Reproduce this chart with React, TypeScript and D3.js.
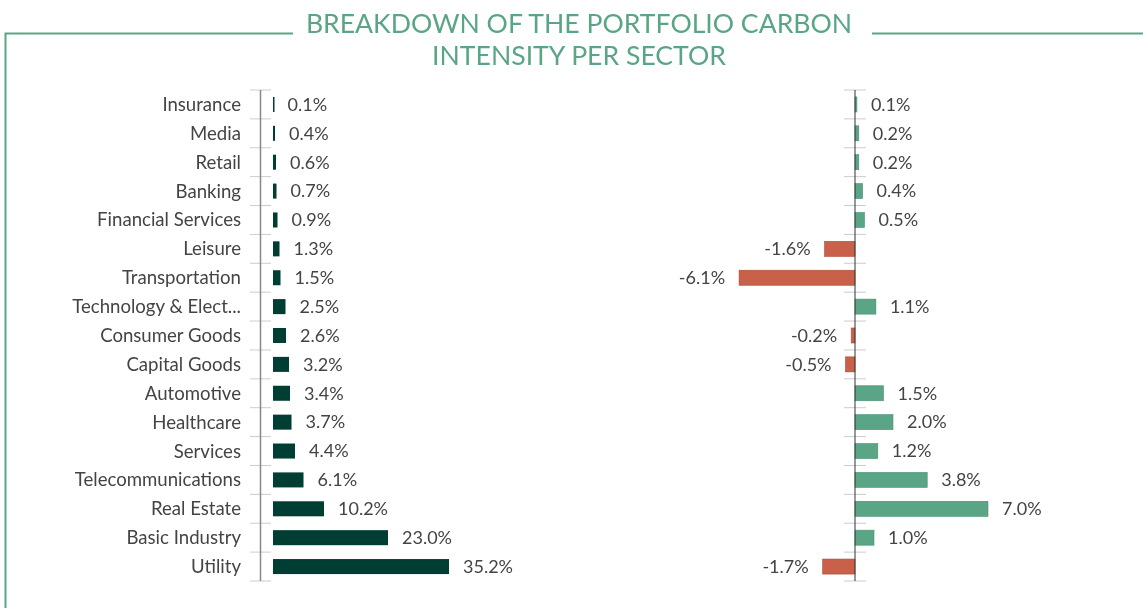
import { useEffect, useRef } from "react";
import * as d3 from "d3";

const sectors = [
  "Insurance", "Media", "Retail", "Banking", "Financial Services", "Leisure",
  "Transportation", "Technology & Elect...", "Consumer Goods", "Capital Goods",
  "Automotive", "Healthcare", "Services", "Telecommunications", "Real Estate",
  "Basic Industry", "Utility",
];
const portfolioShare = [0.1, 0.4, 0.6, 0.7, 0.9, 1.3, 1.5, 2.5, 2.6, 3.2, 3.4, 3.7, 4.4, 6.1, 10.2, 23.0, 35.2];
const relativeDiff = [0.1, 0.2, 0.2, 0.4, 0.5, -1.6, -6.1, 1.1, -0.2, -0.5, 1.5, 2.0, 1.2, 3.8, 7.0, 1.0, -1.7];

const titleLines = ["BREAKDOWN OF THE PORTFOLIO CARBON", "INTENSITY PER SECTOR"];

const W = 1143;
const H = 608;
const FONT = "Lato, 'Open Sans', sans-serif";
const GREEN = "#5aa585";
const DARK = "#003d33";
const RED = "#c8604a";

const App = () => {
  const svgRef = useRef<SVGSVGElement>(null);

  useEffect(() => {
    const svg = d3.select(svgRef.current);
    svg.selectAll("*").remove();

    // frame + title
    svg.append("path")
      .attr("d", `M293,33.5 H5.5 V${H}`)
      .attr("fill", "none").attr("stroke", GREEN).attr("stroke-width", 2);
    svg.append("path")
      .attr("d", `M872,33.5 H${W}`)
      .attr("fill", "none").attr("stroke", GREEN).attr("stroke-width", 2);

    svg.append("g")
      .selectAll("text")
      .data(titleLines)
      .join("text")
      .attr("x", 579)
      .attr("y", (d, i) => 33 + i * 32)
      .attr("text-anchor", "middle")
      .attr("fill", GREEN)
      .attr("font-family", FONT)
      .attr("font-size", 26.6)
      .text(d => d);

    const y = d3.scaleBand()
      .domain(sectors)
      .range([90, 581])
      .paddingInner(0.48)
      .paddingOuter(0.24);
    // band boundaries for the tick marks
    const step = y.step();
    const bounds = d3.range(sectors.length + 1).map(i => 90 + i * step);

    // ----- left panel
    const xL = d3.scaleLinear().domain([0, 35.2]).range([273, 449]);

    svg.append("g")
      .selectAll("text")
      .data(sectors)
      .join("text")
      .attr("x", 241)
      .attr("y", d => y(d)! + y.bandwidth() / 2)
      .attr("dy", "0.35em")
      .attr("text-anchor", "end")
      .attr("fill", "#444")
      .attr("font-family", FONT)
      .attr("font-size", 18.6)
      .text(d => d);

    svg.append("g")
      .selectAll("line")
      .data(bounds)
      .join("line")
      .attr("x1", 250).attr("x2", 271)
      .attr("y1", d => d).attr("y2", d => d)
      .attr("stroke", "#ccc");
    svg.append("line")
      .attr("x1", 260.5).attr("x2", 260.5)
      .attr("y1", bounds[0]).attr("y2", bounds[bounds.length - 1])
      .attr("stroke", "#888").attr("stroke-width", 1.5);

    svg.append("g")
      .selectAll("rect")
      .data(portfolioShare)
      .join("rect")
      .attr("x", xL(0))
      .attr("y", (d, i) => y(sectors[i])!)
      .attr("width", d => Math.max(1.5, xL(d) - xL(0)))
      .attr("height", y.bandwidth())
      .attr("fill", DARK);

    svg.append("g")
      .selectAll("text")
      .data(portfolioShare)
      .join("text")
      .attr("x", d => xL(d) + 14)
      .attr("y", (d, i) => y(sectors[i])! + y.bandwidth() / 2)
      .attr("dy", "0.35em")
      .attr("fill", "#444")
      .attr("font-family", FONT)
      .attr("font-size", 18)
      .text(d => `${d.toFixed(1)}%`);

    // ----- right panel
    const xR = d3.scaleLinear().domain([0, 7]).range([855, 988]);

    svg.append("g")
      .selectAll("line")
      .data(bounds)
      .join("line")
      .attr("x1", 844).attr("x2", 866)
      .attr("y1", d => d).attr("y2", d => d)
      .attr("stroke", "#ccc");

    svg.append("g")
      .selectAll("rect")
      .data(relativeDiff)
      .join("rect")
      .attr("x", d => Math.min(xR(d), xR(0)))
      .attr("y", (d, i) => y(sectors[i])!)
      .attr("width", d => Math.max(1.5, Math.abs(xR(d) - xR(0))))
      .attr("height", y.bandwidth())
      .attr("fill", d => (d < 0 ? RED : GREEN))
      .attr("stroke", d => (d < 0 ? "#a84a38" : "#4a8f72"))
      .attr("stroke-width", 0.6);

    svg.append("line")
      .attr("x1", 855).attr("x2", 855)
      .attr("y1", bounds[0]).attr("y2", bounds[bounds.length - 1])
      .attr("stroke", "#333").attr("stroke-width", 1);

    svg.append("g")
      .selectAll("text")
      .data(relativeDiff)
      .join("text")
      .attr("x", d => (d < 0 ? xR(d) - 14 : xR(d) + 14))
      .attr("y", (d, i) => y(sectors[i])! + y.bandwidth() / 2)
      .attr("dy", "0.35em")
      .attr("text-anchor", d => (d < 0 ? "end" : "start"))
      .attr("fill", "#444")
      .attr("font-family", FONT)
      .attr("font-size", 18)
      .text(d => `${d.toFixed(1)}%`);
  }, []);

  return (
    <div style={{ position: "fixed", left: 0, top: 0 }}>
      <svg ref={svgRef} width={W} height={H}></svg>
    </div>
  );
};

export default App;
